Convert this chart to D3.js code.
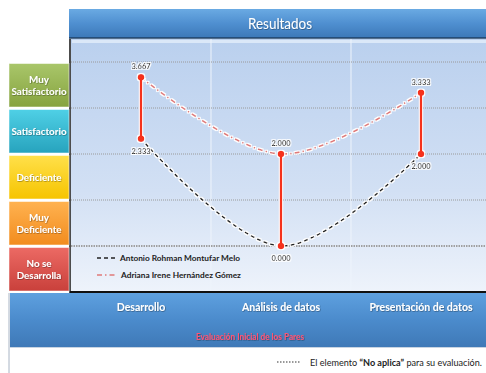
<!DOCTYPE html>
<html lang="es">
  <head>
    <meta charset="UTF-8" />
    <title>Resultados</title>
    <script src="https://cdn.jsdelivr.net/npm/d3@7"></script>
    <style>
      body { margin: 0; background: #fff; }
      text { font-family: Lato, "Open Sans", sans-serif; }
    </style>
  </head>
  <body>
    <svg width="486" height="373"></svg>
  </body>
  <script>
    // data
    var categories = ["Desarrollo", "Análisis de datos", "Presentación de datos"];
    var antonio = [2.333, 0.0, 2.0];
    var adriana = [3.667, 2.0, 3.333];
    var seriesNames = ["Antonio Rohman Montufar Melo", "Adriana Irene Hernández Gómez"];
    // each level band sits between value v-1 and v
    var levels = [
      { name: ["Muy", "Satisfactorio"], v: 4 },
      { name: ["Satisfactorio"], v: 3 },
      { name: ["Deficiente"], v: 2 },
      { name: ["Muy", "Deficiente"], v: 1 },
      { name: ["No se", "Desarrolla"], v: 0 }
    ];
    var gridValues = [4, 3, 2, 1];
    var levelColors = [
      ["#a9c66a", "#86a33f"],
      ["#4fd0e6", "#27a3bd"],
      ["#ffe04a", "#f6c400"],
      ["#ffb250", "#f28c1e"],
      ["#ec6a64", "#c9403b"]
    ];

    var svg = d3.select("svg");
    var defs = svg.append("defs");

    function vgrad(id, stops) {
      var g = defs.append("linearGradient").attr("id", id)
        .attr("x1", 0).attr("y1", 0).attr("x2", 0).attr("y2", 1);
      stops.forEach(function (s) {
        g.append("stop").attr("offset", s[0]).attr("stop-color", s[1]);
      });
    }
    vgrad("gTitle", [[0, "#6aaae3"], [0.5, "#4f8fd0"], [1, "#3c78b8"]]);
    vgrad("gPlot", [[0, "#bad0ee"], [0.6, "#d2e0f4"], [1, "#eef3fb"]]);
    vgrad("gAxis", [[0, "#5ea0df"], [0.5, "#4b8bcc"], [1, "#3f79b7"]]);
    levelColors.forEach(function (c, i) {
      vgrad("gLvl" + i, [[0, c[0]], [1, c[1]]]);
    });

    var glow = defs.append("filter").attr("id", "glow")
      .attr("x", "-50%").attr("y", "-50%").attr("width", "200%").attr("height", "200%");
    glow.append("feMorphology").attr("in", "SourceAlpha").attr("operator", "dilate").attr("radius", 1.2).attr("result", "d");
    glow.append("feFlood").attr("flood-color", "#fff");
    glow.append("feComposite").attr("in2", "d").attr("operator", "in").attr("result", "w");
    var m = glow.append("feMerge");
    m.append("feMergeNode").attr("in", "w");
    m.append("feMergeNode").attr("in", "SourceGraphic");

    var shadow = defs.append("filter").attr("id", "tshadow");
    shadow.append("feDropShadow").attr("dx", 0.6).attr("dy", 0.6)
      .attr("stdDeviation", 0.4).attr("flood-color", "#000").attr("flood-opacity", 0.45);

    var plotLeft = 71, plotRight = 491, plotTop = 39, plotBottom = 292;

    var x = d3.scaleBand().domain(categories).range([plotLeft, plotRight]);
    var y = d3.scaleLinear().domain([-1, 4.5]).range([plotBottom, plotTop]);

    // title bar
    svg.append("rect").attr("x", 69).attr("y", 9).attr("width", 420).attr("height", 29)
      .attr("fill", "url(#gTitle)");
    svg.append("line").attr("x1", 69).attr("x2", 486).attr("y1", 38).attr("y2", 38)
      .attr("stroke", "#1d3f66").attr("stroke-width", 1.5);
    svg.append("text").attr("x", 248).attr("y", 29)
      .attr("fill", "#fff").attr("font-size", 15.5).attr("filter", "url(#tshadow)")
      .attr("textLength", 64).attr("lengthAdjust", "spacingAndGlyphs")
      .text("Resultados");

    // plot background
    svg.append("rect").attr("x", plotLeft).attr("y", plotTop).attr("width", plotRight - plotLeft)
      .attr("height", plotBottom - plotTop).attr("fill", "url(#gPlot)");
    svg.append("rect").attr("x", plotLeft + 1).attr("y", plotTop + 1).attr("width", plotRight - plotLeft)
      .attr("height", 3).attr("fill", "#e4eefa").attr("opacity", 0.8);

    // vertical separators
    svg.selectAll(".vsep").data(categories.slice(1)).enter().append("line")
      .attr("x1", (d) => x(d)).attr("x2", (d) => x(d))
      .attr("y1", plotTop).attr("y2", plotBottom)
      .attr("stroke", "#eef4fc").attr("stroke-width", 1);

    // horizontal grid
    svg.selectAll(".grid").data(gridValues).enter().append("line")
      .attr("x1", plotLeft).attr("x2", 486)
      .attr("y1", (d) => y(d)).attr("y2", (d) => y(d))
      .attr("stroke", "#9a9a9a").attr("stroke-width", 1).attr("stroke-dasharray", "1,1");
    svg.append("line").attr("x1", plotLeft).attr("x2", 486)
      .attr("y1", y(0)).attr("y2", y(0))
      .attr("stroke", "#a0a0a0").attr("stroke-width", 2.2).attr("stroke-dasharray", "1.5,1");

    // plot borders
    svg.append("line").attr("x1", 70).attr("x2", 70).attr("y1", plotTop).attr("y2", plotBottom + 1)
      .attr("stroke", "#111").attr("stroke-width", 1.5);
    svg.append("line").attr("x1", 70).attr("x2", 486).attr("y1", plotBottom).attr("y2", plotBottom)
      .attr("stroke", "#111").attr("stroke-width", 2);

    // level boxes
    var lvl = svg.selectAll(".lvl").data(levels).enter().append("g");
    lvl.append("rect")
      .attr("x", 9).attr("width", 60)
      .attr("y", (d) => y(d.v) + 1.5)
      .attr("height", (d) => y(d.v - 1) - y(d.v) - 2.5)
      .attr("fill", (d, i) => "url(#gLvl" + i + ")")
      .attr("stroke", "#ffffff").attr("stroke-opacity", 0.5);
    lvl.each(function (d) {
      var t = d3.select(this).append("text")
        .attr("x", 39).attr("text-anchor", "middle")
        .attr("fill", "#fff").attr("font-size", 9.8).attr("font-weight", "bold")
        .attr("filter", "url(#tshadow)");
      var n = d.name.length;
      var mid = y(d.v - 0.5);
      d.name.forEach(function (s, k) {
        t.append("tspan").attr("x", 39)
          .attr("y", mid + 3.5 + (k - (n - 1) / 2) * 12)
          .text(s);
      });
    });

    // bottom axis bar
    svg.append("rect").attr("x", 10).attr("y", 293).attr("width", 480).attr("height", 54)
      .attr("fill", "url(#gAxis)");
    svg.append("line").attr("x1", 9).attr("x2", 9).attr("y1", 293).attr("y2", 373)
      .attr("stroke", "#a8b4c4").attr("stroke-width", 1);
    svg.append("line").attr("x1", 10).attr("x2", 486).attr("y1", 347.5).attr("y2", 347.5)
      .attr("stroke", "#c8d4e2").attr("stroke-width", 1);

    var xAxis = d3.axisBottom(x).tickSize(0).tickPadding(0);
    var gx = svg.append("g").attr("transform", "translate(0,304)").call(xAxis);
    gx.select(".domain").remove();
    gx.selectAll("text")
      .attr("fill", "#fff").attr("font-size", 10.5).attr("font-weight", "bold")
      .attr("font-family", "Lato, sans-serif").attr("filter", "url(#tshadow)");

    svg.append("text").attr("x", 196).attr("y", 340)
      .attr("fill", "#ff5574").attr("font-size", 9.5).attr("font-weight", "bold")
      .attr("textLength", 108).attr("lengthAdjust", "spacingAndGlyphs")
      .attr("filter", "url(#tshadow)")
      .text("Evaluación Inicial de los Pares");

    // series lines
    var line = d3.line()
      .x((d, i) => x(categories[i]) + x.bandwidth() / 2)
      .y((d) => y(d))
      .curve(d3.curveCatmullRom.alpha(0.5));

    svg.append("path").datum(adriana).attr("d", line)
      .attr("fill", "none").attr("stroke", "#e07a7a").attr("stroke-width", 1.6)
      .attr("stroke-dasharray", "5,3,1.5,3").attr("filter", "url(#glow)");
    svg.append("path").datum(antonio).attr("d", line)
      .attr("fill", "none").attr("stroke", "#222").attr("stroke-width", 1.6)
      .attr("stroke-dasharray", "4,3").attr("filter", "url(#glow)");

    // high-low lines
    var hl = categories.map(function (c, i) {
      return { c: c, hi: Math.max(antonio[i], adriana[i]), lo: Math.min(antonio[i], adriana[i]) };
    });
    var hlg = svg.append("g").attr("filter", "url(#glow)");
    hlg.selectAll("line").data(hl).enter().append("line")
      .attr("x1", (d) => x(d.c) + x.bandwidth() / 2).attr("x2", (d) => x(d.c) + x.bandwidth() / 2)
      .attr("y1", (d) => y(d.hi)).attr("y2", (d) => y(d.lo))
      .attr("stroke", "#f5301a").attr("stroke-width", 2.4);
    var pts = [];
    hl.forEach(function (d) { pts.push({ c: d.c, v: d.hi, top: true }); pts.push({ c: d.c, v: d.lo, top: false }); });
    hlg.selectAll("circle").data(pts).enter().append("circle")
      .attr("cx", (d) => x(d.c) + x.bandwidth() / 2).attr("cy", (d) => y(d.v))
      .attr("r", 3.3).attr("fill", "#f5301a");

    // value labels
    svg.selectAll(".vlab").data(pts).enter().append("text")
      .attr("x", (d) => x(d.c) + x.bandwidth() / 2)
      .attr("y", (d) => (d.top ? y(d.v) - 8 : y(d.v) + 15))
      .attr("text-anchor", "middle").attr("font-size", 7.5).attr("font-weight", "bold")
      .attr("fill", "#333").attr("filter", "url(#glow)")
      .text((d) => d3.format(".3f")(d.v));

    // legend inside plot
    var leg = svg.append("g");
    var legY = [258, 275];
    var legDash = ["4,3", "5,3,1.5,3"];
    var legCol = ["#222", "#e07a7a"];
    seriesNames.forEach(function (n, i) {
      leg.append("line").attr("x1", 97).attr("x2", 117).attr("y1", legY[i]).attr("y2", legY[i])
        .attr("stroke", legCol[i]).attr("stroke-width", 1.6).attr("stroke-dasharray", legDash[i]);
      leg.append("text").attr("x", i === 0 ? 120 : 121).attr("y", legY[i] + 3)
        .attr("font-size", 8.3).attr("font-weight", "bold").attr("fill", "#222")
        .text(n);
    });

    // footer note
    svg.append("line").attr("x1", 277).attr("x2", 300).attr("y1", 362).attr("y2", 362)
      .attr("stroke", "#999").attr("stroke-width", 2).attr("stroke-dasharray", "1.5,1.5");
    var note = svg.append("text").attr("x", 310).attr("y", 366).attr("font-size", 9.5).attr("fill", "#222")
      .attr("textLength", 172).attr("lengthAdjust", "spacingAndGlyphs");
    note.append("tspan").text("El elemento ");
    note.append("tspan").attr("font-weight", "bold").text("“No aplica”");
    note.append("tspan").text(" para su evaluación.");
  </script>
</html>
